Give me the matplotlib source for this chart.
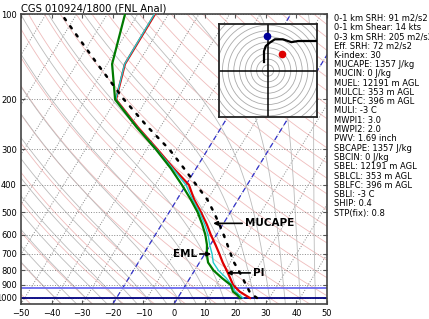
"""Skew-T for CGS 2001-09-24 18Z with hodograph inset and index list."""

import numpy as np
import matplotlib

matplotlib.use("Agg")
import matplotlib.pyplot as plt  # noqa: E402
from matplotlib.patches import Circle  # noqa: E402
from matplotlib.ticker import NullLocator  # noqa: E402

# sounding (hPa / degC)
pres = [1000, 975, 950, 925, 900, 850, 800, 750, 700, 650, 600,
        550, 500, 450, 400, 350, 300, 250, 200, 150, 100]
temp = [23.6, 21.3, 19.0, 17.3, 15.5, 13.1, 10.5, 7.6, 4.8, 1.7, -1.8,
        -5.3, -9.5, -14.4, -19.0, -27.3, -36.4, -47.4, -60.0, -64.2, -64.4]
dwpt = [20.4, 18.8, 16.8, 15.8, 14.7, 10.4, 6.2, 2.8, 0.7, -1.1, -3.6,
        -6.8, -10.6, -15.5, -21.3, -28.2, -36.9, -47.8, -60.3, -68.4, -74.2]
wetb = [21.4, 19.5, 17.6, 16.3, 15.0, 11.8, 7.8, 4.5, 2.4, -0.2, -2.7,
        -6.0, -10.0, -14.9, -20.0, -27.6, -36.6, -47.6, -60.1, -64.3, -64.6]
parcel = [25.9, 23.9, 22.2, 21.0, 19.7, 17.2, 14.4, 11.3, 8.5, 5.6, 2.4,
          -1.2, -5.3, -10.1, -16.6, -23.9, -32.5, -44.1, -57.4, -73.2, -95.0]

# hodograph (kt) and storm motions
hodo_u = [-7, -7, -4, 3, 12, 26, 41, 53, 95]
hodo_v = [15, 34, 43, 49, 55, 55, 50, 52, 52]
left_mover = (-1, 60)
right_mover = (25, 29)

# layer lines (hPa) and highlighted isotherms (degC)
sfc_p = 1000
eff_top_p = 922
hl_isotherms = [-20, 0]

# labels: text, arrow tip (T, p), text anchor (T)
notes = [("MUCAPE", -3.4, 546, 7.0, "left"),
         ("EML", 2.1, 700, -2.5, "right"),
         ("PI", 11.0, 816, 19.6, "left")]

info = [
    "0-1 km SRH: 91 m2/s2",
    "0-1 km Shear: 14 kts",
    "0-3 km SRH: 205 m2/s2",
    "Eff. SRH: 72 m2/s2",
    "K-index: 30",
    "MUCAPE: 1357 J/kg",
    "MUCIN: 0 J/kg",
    "MUEL: 12191 m AGL",
    "MULCL: 353 m AGL",
    "MULFC: 396 m AGL",
    "MULI: -3 C",
    "MWPI1: 3.0",
    "MWPI2: 2.0",
    "PWV: 1.69 inch",
    "SBCAPE: 1357 J/kg",
    "SBCIN: 0 J/kg",
    "SBEL: 12191 m AGL",
    "SBLCL: 353 m AGL",
    "SBLFC: 396 m AGL",
    "SBLI: -3 C",
    "SHIP: 0.4",
    "STP(fix): 0.8",
]

P_BOT, P_TOP = 1050.0, 100.0
SKEW = 57.0  # x shift (degC) per decade of pressure


def skew_x(t, p):
    return np.asarray(t, float) + SKEW * np.log10(P_BOT / np.asarray(p, float))


def _dtdp(tk, p):
    es = 6.112 * np.exp(17.67 * (tk - 273.15) / (tk - 29.65))
    es = np.minimum(es, 0.5 * p)
    rs = 0.622 * es / (p - es)
    num = 287.04 * tk + 2.501e6 * rs
    den = p * (1005.7 + 2.501e6 ** 2 * rs * 0.622 / (287.04 * tk ** 2))
    return num / den


def moist_adiabats(t0c, p_end, n=160):
    ps = np.linspace(1000.0, p_end, n)
    tk = np.asarray(t0c, float) + 273.15
    out = [tk]
    for i in range(1, n):
        dp = ps[i] - ps[i - 1]
        k1 = _dtdp(tk, ps[i - 1])
        k2 = _dtdp(tk + k1 * dp, ps[i])
        tk = tk + 0.5 * (k1 + k2) * dp
        out.append(tk)
    return ps, np.array(out) - 273.15


fig = plt.figure(figsize=(4.29, 3.19), dpi=100)
ax = fig.add_axes([21 / 429, 15 / 319, 306 / 429, 290 / 319])
ax.set_yscale("log")

# background: isotherms, dry and moist adiabats
for t in range(-160, 51, 10):
    ax.plot(skew_x([t, t], [P_BOT, P_TOP]), [P_BOT, P_TOP], ls=":",
            color="#888888", lw=0.7, zorder=1)

pp = np.logspace(np.log10(P_TOP), np.log10(P_BOT), 120)
for th in np.arange(-50, 260, 10) + 273.15:
    tt = th * (pp / 1000.0) ** 0.2857 - 273.15
    ax.plot(skew_x(tt, pp), pp, color="#e8a0a0", lw=0.6, alpha=0.7, zorder=1)

t0s = np.arange(-40, 46, 5)
for p_end in (P_TOP, P_BOT):
    ps, tm = moist_adiabats(t0s, p_end)
    for j in range(len(t0s)):
        ax.plot(skew_x(tm[:, j], ps), ps, color="#bbbbbb", lw=0.6, zorder=1)

for t in hl_isotherms:
    ax.plot(skew_x([t, t], [P_BOT, P_TOP]), [P_BOT, P_TOP], ls=(0, (4, 3)),
            color="#3333cc", lw=0.9, zorder=2)

ax.axhline(eff_top_p, color="#6a6aee", lw=1.3, zorder=2)
ax.axhline(sfc_p, color="#000080", lw=1.3, zorder=2)

# profiles
ax.plot(skew_x(temp, pres), pres, color="#dd0000", lw=1.6, zorder=4)
ax.plot(skew_x(wetb, pres), pres, color="#22cccc", lw=1.0, zorder=4)
ax.plot(skew_x(dwpt, pres), pres, color="#007a00", lw=1.6, zorder=4)
ax.plot(skew_x(parcel, pres), pres, color="k", lw=1.8, ls=(0, (1, 3)),
        dash_capstyle="round", zorder=5)

for label, tt, tp, tx, ha in notes:
    ax.annotate(label, xy=(skew_x(tt, tp), tp), xytext=(skew_x(tx, tp), tp),
                ha=ha, va="center", fontsize=7.5, fontweight="bold",
                arrowprops=dict(arrowstyle="-|>", color="k", lw=1.2,
                                mutation_scale=6, shrinkA=0, shrinkB=0),
                zorder=6)

ax.set_xlim(-50, 50)
ax.set_ylim(P_BOT, P_TOP)
ax.set_xticks(range(-50, 51, 10))
ticks_p = list(range(100, 1001, 100))
ax.set_yticks(ticks_p)
ax.set_yticklabels([str(p) for p in ticks_p])
ax.yaxis.set_minor_locator(NullLocator())
for p in ticks_p:
    ax.axhline(p, ls=":", color="#888888", lw=0.7, zorder=1)
ax.tick_params(direction="in", top=True, right=True, labelsize=6,
               length=3, width=0.8, color="#555555")
ax.tick_params(axis="y", pad=3)
for s in ax.spines.values():
    s.set_linewidth(1.2)
    s.set_color("#444444")
ax.set_title("CGS 010924/1800 (FNL Anal)", loc="left", fontsize=7.2, pad=2)

# hodograph inset
hx = fig.add_axes([219 / 429, 202 / 319, 98 / 429, 93 / 319], zorder=10)
hx.set_facecolor("white")
for r in range(10, 130, 10):
    hx.add_patch(Circle((0, 0), r, fill=False, color="#aaaaaa", lw=0.6,
                        zorder=1))
hx.axhline(0, color="k", lw=1.1, zorder=2)
hx.axvline(0, color="k", lw=1.1, zorder=2)
hx.plot(hodo_u, hodo_v, color="k", lw=1.6, zorder=4)
hx.plot(*left_mover, "o", color="#000099", ms=4.5, zorder=5)
hx.plot(*right_mover, "o", color="#dd0000", ms=4.5, zorder=5)
hx.set_xlim(-86, 86)
hx.set_ylim(-82, 82)
hx.set_xticks([])
hx.set_yticks([])
for s in hx.spines.values():
    s.set_linewidth(1.3)
    s.set_color("#222222")

for i, line in enumerate(info):
    fig.text(334 / 429, 1 - (18 + 9.3 * i) / 319, line, fontsize=6,
             va="center", ha="left")

fig.savefig("out.png", dpi=100)
